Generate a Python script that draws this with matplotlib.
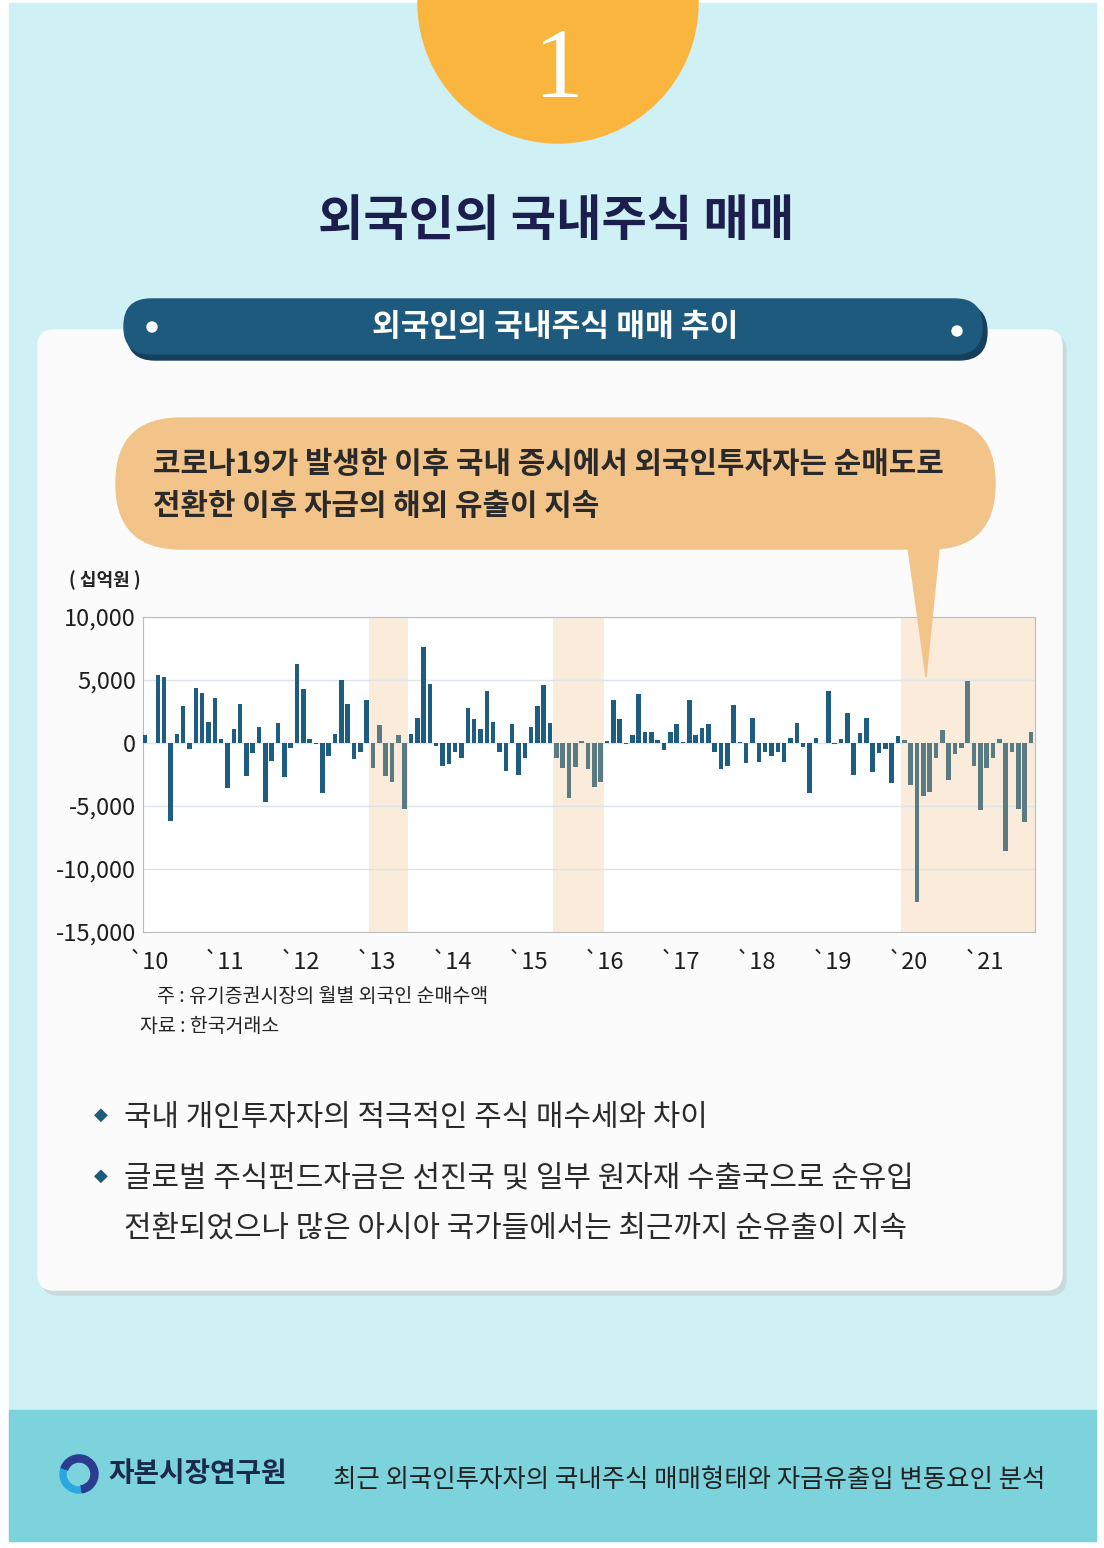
import matplotlib.pyplot as plt
import matplotlib.patches as mpatches
import numpy as np

plt.rcParams['font.family'] = ['Noto Sans CJK KR', 'DejaVu Sans']

# 유가증권시장 월별 외국인 순매수액 (십억원), 2010.01 ~ 2021.09
y2010 = [600, 0, 5400, 5200, -6200, 700, 2900, -500, 4400, 4000, 1700, 3600]
y2011 = [300, -3600, 1100, 3100, -2600, -800, 1300, -4700, -1400, 1600, -2700, -400]
y2012 = [6300, 4300, 300, -100, -4000, -1000, 700, 5000, 3100, -1300, -700, 3400]
y2013 = [-2000, 1400, -2600, -3100, 600, -5200, 700, 2000, 7600, 4700, -200, -1800]
y2014 = [-1700, -750, -1200, 2800, 1900, 1100, 4100, 1700, -750, -2200, 1500, -2500]
y2015 = [-1200, 1300, 2900, 4600, 1600, -1200, -2000, -4400, -1900, 150, -2100, -3500]
y2016 = [-3100, 150, 3400, 1900, -100, 600, 3900, 900, 900, 200, -550, 900]
y2017 = [1500, 100, 3400, 600, 1200, 1500, -700, -2100, -1800, 3000, 50, -1600]
y2018 = [2000, -1500, -700, -1000, -700, -1500, 400, 1600, -300, -4000, 400, 0]
y2019 = [4100, -100, 300, 2400, -2500, 800, 2000, -2300, -800, -500, -3200, 550]
y2020 = [250, -3300, -12600, -4200, -3900, -1200, 1000, -2900, -900, -400, 4900, -1800]
y2021 = [-5300, -2000, -1200, 300, -8600, -700, -5200, -6300, 900]

values = y2010 + y2011 + y2012 + y2013 + y2014 + y2015 + y2016 + y2017 + y2018 + y2019 + y2020 + y2021
year_labels = ['`10', '`11', '`12', '`13', '`14', '`15', '`16', '`17', '`18', '`19', '`20', '`21']
yticks = [10000, 5000, 0, -5000, -10000, -15000]
# 음영 구간 (월 인덱스): 2013.01~06, 2015.06~2016.01, 2020.01~
shade_periods = [(36, 41), (65, 72), (120, 140)]

W, H = 1104, 1548
fig = plt.figure(figsize=(W / 100, H / 100), dpi=100)
fig.patch.set_facecolor('white')

bg = fig.add_axes([0, 0, 1, 1])
bg.set_xlim(0, W)
bg.set_ylim(H, 0)
bg.axis('off')

# 배경
bg.add_patch(mpatches.Rectangle((9, 3), 1087, 1538, color='#CFF0F4', zorder=0))
bg.add_patch(mpatches.Rectangle((9, 1410), 1087, 131, color='#7DD3DC', zorder=1))

# 상단 번호 원
bg.add_patch(mpatches.Circle((558, 3), 140, color='#F9B53E', zorder=2))
bg.text(558, 73, '1', color='white', fontsize=72, family='Liberation Serif',
        ha='center', va='center', zorder=3)

bg.text(556, 222, '외국인의 국내주식 매매', color='#1C1F4E', fontsize=35.5,
        weight='bold', ha='center', va='center', zorder=3)

# 카드
bg.add_patch(mpatches.FancyBboxPatch((42, 335), 1024, 960, boxstyle='round,pad=0,rounding_size=16',
                                     color='#C9D9DC', zorder=2))
bg.add_patch(mpatches.FancyBboxPatch((38, 330), 1024, 960, boxstyle='round,pad=0,rounding_size=16',
                                     color='#FBFBFB', zorder=2))

# 배너
bg.add_patch(mpatches.FancyBboxPatch((127, 304), 860, 56, boxstyle='round,pad=0,rounding_size=28',
                                     color='#163F5C', zorder=3))
bg.add_patch(mpatches.FancyBboxPatch((124, 299), 858, 55, boxstyle='round,pad=0,rounding_size=27',
                                     color='#1E5A7E', zorder=4))
bg.add_patch(mpatches.Circle((152, 327), 5, color='white', zorder=5))
bg.add_patch(mpatches.Circle((957, 331), 5, color='white', zorder=5))
bg.text(555, 327, '외국인의 국내주식 매매 추이', color='white', fontsize=22.5,
        weight='bold', ha='center', va='center', zorder=5)

# 말풍선
bubble = '#F2C48A'
bg.add_patch(mpatches.FancyBboxPatch((116, 418), 879, 131, boxstyle='round,pad=0,rounding_size=65',
                                     color=bubble, zorder=3))
tail = mpatches.Polygon([(907, 540), (940, 540), (926, 677)], closed=True,
                        color=bubble, transform=bg.transData, zorder=10)
fig.add_artist(tail)
bg.text(153, 464, '코로나19가 발생한 이후 국내 증시에서 외국인투자자는 순매도로',
        fontsize=21.5, weight='bold', color='#2A2A2A', va='center', zorder=4)
bg.text(153, 506, '전환한 이후 자금의 해외 유출이 지속',
        fontsize=21.5, weight='bold', color='#2A2A2A', va='center', zorder=4)

bg.text(105, 580, '( 십억원 )', fontsize=13, weight='bold', color='#222222',
        ha='center', va='center', zorder=4)

# 막대 그래프
ax = fig.add_axes([143 / W, 1 - 932 / H, (1035 - 143) / W, (932 - 617) / H])
ax.set_zorder(5)
ax.set_facecolor('white')
x = np.arange(len(values))
colors = []
for i in x:
    shaded = any(a <= i <= b for a, b in shade_periods)
    colors.append('#5B7B82' if shaded else '#1F5C82')
for a, b in shade_periods:
    ax.axvspan(a - 0.55, b + 0.6, color='#FAEBDA', lw=0, zorder=0)
ax.bar(x, values, width=0.72, color=colors, zorder=3)
ax.set_xlim(-0.35, len(values) - 0.35)
ax.set_ylim(-15000, 10000)
ax.set_yticks(yticks)
ax.set_yticklabels(['{:,}'.format(v) for v in yticks], fontsize=17, color='#1E1E1E')
ax.set_xticks(np.arange(len(year_labels)) * 12 + 0.5)
ax.set_xticklabels(year_labels, fontsize=17, color='#1E1E1E')
ax.tick_params(length=0)
ax.tick_params(axis='y', pad=5)
ax.tick_params(axis='x', pad=14)
ax.grid(axis='y', color='#DCE3EA', lw=1, zorder=1)
for s in ax.spines.values():
    s.set_color('#BDBDBD')

# 주석
bg.text(157, 997, '주 : 유기증권시장의 월별 외국인 순매수액', fontsize=14, color='#222222',
        va='center', zorder=4)
bg.text(140, 1027, '자료 : 한국거래소', fontsize=14, color='#222222', va='center', zorder=4)

# 요약 문장
bullets = [(1117, '국내 개인투자자의 적극적인 주식 매수세와 차이'),
           (1178, '글로벌 주식펀드자금은 선진국 및 일부 원자재 수출국으로 순유입')]
for yy, t in bullets:
    bg.text(101, yy - 2, '◆', fontsize=13, color='#1E5A7E', ha='center', va='center', zorder=4,
            family=['DejaVu Sans'])
    bg.text(124, yy, t, fontsize=21.5, weight='medium', color='#2A2A2A', va='center', zorder=4)
bg.text(124, 1228, '전환되었으나 많은 아시아 국가들에서는 최근까지 순유출이 지속', fontsize=21.5,
        weight='medium', color='#2A2A2A', va='center', zorder=4)

# 하단
bg.add_patch(mpatches.Wedge((79, 1474), 19, 30, 300, width=6, color='#2AA7E0', zorder=4))
bg.add_patch(mpatches.Wedge((79, 1474), 19, 200, 80, width=7, color='#2B3D8F', zorder=4))
bg.add_patch(mpatches.Circle((79, 1474), 7, color='#7DD3DC', zorder=5))
bg.text(108, 1474, '자본시장연구원', fontsize=20, weight='bold', color='#1B2A4A',
        va='center', zorder=4)
bg.text(333, 1480, '최근 외국인투자자의 국내주식 매매형태와 자금유출입 변동요인 분석',
        fontsize=18.3, color='#222222', va='center', zorder=4)

fig.savefig('out.png', dpi=100, facecolor=fig.get_facecolor())
